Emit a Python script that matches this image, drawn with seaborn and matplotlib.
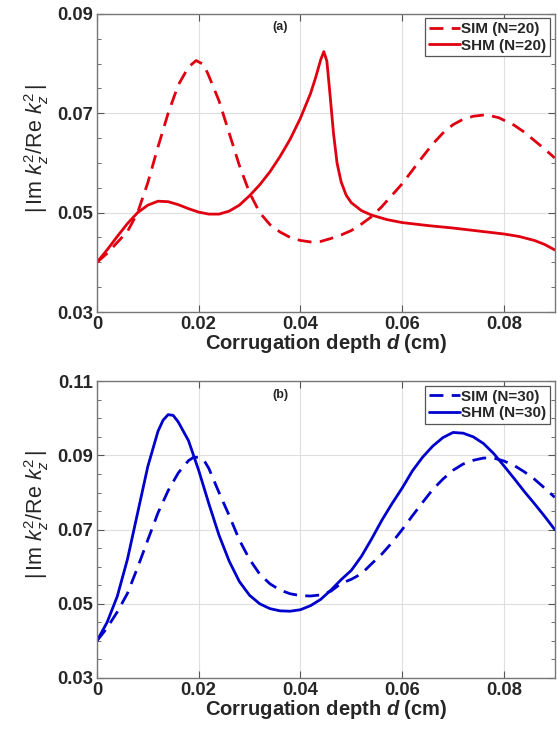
import numpy as np
import pandas as pd
import seaborn as sns
import matplotlib.pyplot as plt
from matplotlib.ticker import MultipleLocator

# panel (a), N=20 -- corrugation depth d (cm) vs |Im kz^2 / Re kz^2|
sim20_d = [0.0, 0.002, 0.004, 0.006, 0.008, 0.010, 0.012, 0.014, 0.016, 0.018, 0.0195,
           0.021, 0.022, 0.024, 0.026, 0.028, 0.030, 0.032, 0.034, 0.036, 0.038, 0.040,
           0.042, 0.044, 0.046, 0.048, 0.050, 0.052, 0.054, 0.056, 0.058, 0.060, 0.062,
           0.064, 0.066, 0.068, 0.070, 0.072, 0.074, 0.0765, 0.079, 0.082, 0.084, 0.086,
           0.088, 0.090]
sim20_v = [0.0400, 0.0418, 0.0440, 0.0462, 0.0500, 0.0560, 0.0632, 0.0700, 0.0757, 0.0793,
           0.0806, 0.0798, 0.0775, 0.0725, 0.0660, 0.0595, 0.0540, 0.0500, 0.0476, 0.0461,
           0.0450, 0.0444, 0.0441, 0.0442, 0.0448, 0.0455, 0.0464, 0.0477, 0.0492, 0.0512,
           0.0535, 0.0558, 0.0585, 0.0612, 0.0638, 0.0660, 0.0677, 0.0688, 0.0694, 0.0697,
           0.0691, 0.0676, 0.0662, 0.0645, 0.0628, 0.0610]
shm20_d = [0.0, 0.002, 0.004, 0.006, 0.008, 0.010, 0.012, 0.014, 0.016, 0.018, 0.020,
           0.022, 0.024, 0.026, 0.028, 0.030, 0.032, 0.034, 0.036, 0.038, 0.040, 0.042,
           0.043, 0.044, 0.0446, 0.0452, 0.0458, 0.0465, 0.0472, 0.048, 0.049, 0.050,
           0.052, 0.054, 0.057, 0.060, 0.065, 0.070, 0.075, 0.080, 0.083, 0.086, 0.088,
           0.090]
shm20_v = [0.0400, 0.0425, 0.0452, 0.0478, 0.0500, 0.0515, 0.0523, 0.0522, 0.0516, 0.0508,
           0.0501, 0.0497, 0.0497, 0.0503, 0.0515, 0.0534, 0.0556, 0.0582, 0.0613, 0.0648,
           0.0690, 0.0740, 0.0772, 0.0808, 0.0824, 0.0805, 0.0740, 0.0660, 0.0600, 0.0562,
           0.0535, 0.0520, 0.0504, 0.0495, 0.0486, 0.0480, 0.0474, 0.0469, 0.0463, 0.0457,
           0.0452, 0.0444, 0.0436, 0.0425]

# panel (b), N=30
sim30_d = [0.0, 0.002, 0.004, 0.006, 0.008, 0.010, 0.012, 0.014, 0.016, 0.018, 0.019,
           0.020, 0.021, 0.022, 0.024, 0.026, 0.028, 0.030, 0.032, 0.034, 0.036, 0.038,
           0.040, 0.042, 0.044, 0.046, 0.048, 0.050, 0.052, 0.054, 0.056, 0.058, 0.060,
           0.062, 0.064, 0.066, 0.068, 0.070, 0.072, 0.074, 0.076, 0.078, 0.080, 0.082,
           0.084, 0.086, 0.088, 0.090]
sim30_v = [0.0400, 0.0435, 0.0478, 0.0528, 0.0598, 0.0672, 0.0745, 0.0805, 0.0853, 0.0886,
           0.0895, 0.0895, 0.0888, 0.0865, 0.0800, 0.0738, 0.0672, 0.0620, 0.0580, 0.0554,
           0.0537, 0.0527, 0.0522, 0.0521, 0.0524, 0.0534, 0.0555, 0.0566, 0.0581, 0.0608,
           0.0634, 0.0665, 0.0700, 0.0737, 0.0773, 0.0808, 0.0836, 0.0860, 0.0877, 0.0887,
           0.0893, 0.0893, 0.0885, 0.0873, 0.0856, 0.0836, 0.0812, 0.0787]
shm30_d = [0.0, 0.002, 0.004, 0.006, 0.008, 0.010, 0.012, 0.013, 0.014, 0.015, 0.016,
           0.018, 0.020, 0.022, 0.024, 0.026, 0.028, 0.030, 0.032, 0.034, 0.036, 0.038,
           0.040, 0.042, 0.044, 0.046, 0.048, 0.050, 0.052, 0.054, 0.056, 0.058, 0.060,
           0.062, 0.064, 0.066, 0.068, 0.070, 0.072, 0.074, 0.076, 0.078, 0.080, 0.082,
           0.084, 0.086, 0.088, 0.090]
shm30_v = [0.0400, 0.0450, 0.0520, 0.0620, 0.0745, 0.0870, 0.0965, 0.0995, 0.1010, 0.1008,
           0.0990, 0.0940, 0.0860, 0.0770, 0.0685, 0.0615, 0.0560, 0.0523, 0.0500, 0.0487,
           0.0481, 0.0480, 0.0484, 0.0495, 0.0512, 0.0537, 0.0565, 0.0590, 0.0628, 0.0675,
           0.0725, 0.0770, 0.0812, 0.0858, 0.0895, 0.0925, 0.0948, 0.0962, 0.0960, 0.0950,
           0.0932, 0.0905, 0.0872, 0.0838, 0.0803, 0.0770, 0.0736, 0.0700]

panels = [
    dict(sim=(sim20_d, sim20_v), shm=(shm20_d, shm20_v), n=20, color='#e0000f',
         ylim=(0.03, 0.09), yticks=[0.03, 0.05, 0.07, 0.09], tag='(a)'),
    dict(sim=(sim30_d, sim30_v), shm=(shm30_d, shm30_v), n=30, color='#0000cc',
         ylim=(0.03, 0.11), yticks=[0.03, 0.05, 0.07, 0.09, 0.11], tag='(b)'),
]

sns.set_style("ticks")
plt.rcParams['font.family'] = ['Liberation Sans', 'DejaVu Sans']
plt.rcParams['mathtext.fontset'] = 'custom'
plt.rcParams['mathtext.rm'] = 'Liberation Sans'
plt.rcParams['mathtext.it'] = 'Liberation Sans:italic'
plt.rcParams['mathtext.bfit'] = 'Liberation Sans:italic:bold'

fig = plt.figure(figsize=(5.57, 7.29), dpi=100)
boxes = [[0.174, 0.572, 0.822, 0.409], [0.174, 0.070, 0.822, 0.407]]

for box, p in zip(boxes, panels):
    ax = fig.add_axes(box)
    sns.lineplot(x=p['sim'][0], y=p['sim'][1], ax=ax, color=p['color'], lw=2.0,
                 label=f"SIM (N={p['n']})", sort=False)
    sns.lineplot(x=p['shm'][0], y=p['shm'][1], ax=ax, color=p['color'], lw=2.0,
                 label=f"SHM (N={p['n']})", sort=False)
    ax.lines[0].set_dashes([5, 3])

    ax.set_xlim(0, 0.09)
    ax.set_ylim(*p['ylim'])
    ax.set_xticks([0, 0.02, 0.04, 0.06, 0.08])
    ax.set_xticklabels(['0', '0.02', '0.04', '0.06', '0.08'])
    ax.set_yticks(p['yticks'])
    ax.set_yticklabels([f"{t:.2f}" for t in p['yticks']])
    ax.yaxis.set_minor_locator(MultipleLocator(0.005))
    ax.grid(True, which='major', color='#dedede', lw=0.8)
    ax.tick_params(which='both', direction='in', top=True, right=True,
                   colors='#555555', labelcolor='#262626', labelsize=13.3, pad=3)
    ax.tick_params(which='major', length=5)
    ax.tick_params(which='minor', length=3)
    for lab in ax.get_xticklabels() + ax.get_yticklabels():
        lab.set_fontweight('bold')
    for s in ax.spines.values():
        s.set_color('#777777')
        s.set_linewidth(1.0)

    ax.set_xlabel(r'Corrugation depth $\mathbfit{d}$ (cm)', fontsize=14.5, fontweight='bold',
                  color='#262626', labelpad=-1)
    ax.set_ylabel(r'$|\,\mathrm{Im}\ k_z^2/\mathrm{Re}\ k_z^2\,|$', fontsize=15.5,
                  color='#262626')
    ax.yaxis.set_label_coords(-0.10, 0.55)
    ax.text(0.40, 0.955, p['tag'], transform=ax.transAxes, ha='center', va='center',
            fontsize=9, fontweight='bold', color='#262626')

    leg = ax.legend(loc='upper right', fontsize=11, handlelength=2.0, handletextpad=0.1,
                    borderaxespad=0.3, borderpad=0.25, labelspacing=0.15,
                    fancybox=False, framealpha=1)
    leg.get_frame().set_edgecolor('#555555')
    leg.get_frame().set_linewidth(0.9)
    for t in leg.get_texts():
        t.set_fontweight('bold')
        t.set_color('#262626')

fig.savefig('out.png', dpi=100)
